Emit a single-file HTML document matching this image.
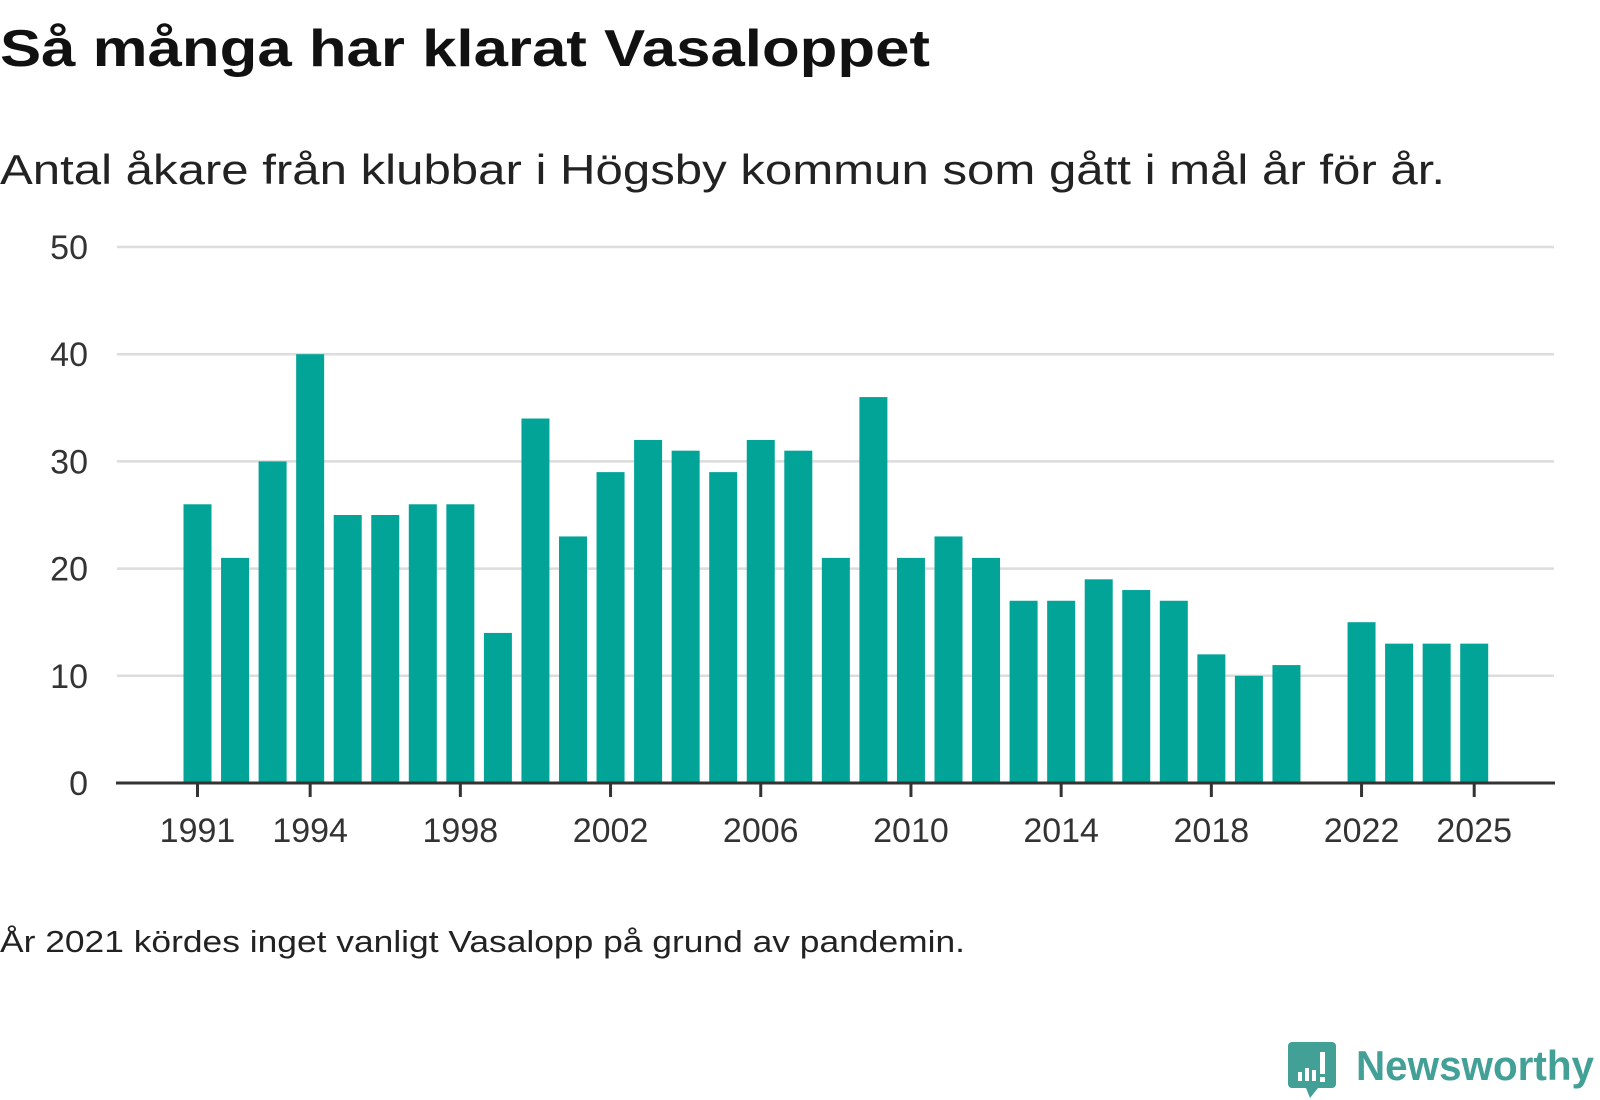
<!DOCTYPE html>
<html><head><meta charset="utf-8"><style>
html,body{margin:0;padding:0;background:#fff;width:1600px;height:1100px;overflow:hidden}
svg{display:block;font-family:"Liberation Sans",sans-serif}
</style></head><body>
<svg id="chart" width="1600" height="1100">
<text x="0" y="66" font-size="52" font-weight="bold" fill="#111" textLength="930" lengthAdjust="spacingAndGlyphs">Så många har klarat Vasaloppet</text>
<text x="0" y="184" font-size="42" fill="#222" textLength="1445" lengthAdjust="spacingAndGlyphs">Antal åkare från klubbar i Högsby kommun som gått i mål år för år.</text>
<g id="grid"></g><g id="bars"></g><g id="xaxis"></g>
<text x="0" y="952" font-size="31" fill="#222" textLength="965" lengthAdjust="spacingAndGlyphs">År 2021 kördes inget vanligt Vasalopp på grund av pandemin.</text>
<g>
<path d="M1292 1042 h40 a4 4 0 0 1 4 4 v38 a4 4 0 0 1 -4 4 h-14 l-8 10 l-4 -10 h-14 a4 4 0 0 1 -4 -4 v-38 a4 4 0 0 1 4 -4z" fill="#42a096"/>
<rect x="1298" y="1072" width="4" height="9" fill="#fff"/><rect x="1305" y="1068" width="4" height="13" fill="#fff"/><rect x="1312" y="1070" width="4" height="11" fill="#fff"/><rect x="1320" y="1052" width="5" height="22" fill="#fff"/><rect x="1320" y="1077" width="5" height="5" fill="#fff"/>
<text x="1356" y="1080" font-size="42" font-weight="bold" fill="#42a096" textLength="238" lengthAdjust="spacingAndGlyphs">Newsworthy</text>
</g>
</svg>
<script>
const years=[1991,1992,1993,1994,1995,1996,1997,1998,1999,2000,2001,2002,2003,2004,2005,2006,2007,2008,2009,2010,2011,2012,2013,2014,2015,2016,2017,2018,2019,2020,2021,2022,2023,2024,2025];
const values=[26,21,30,40,25,25,26,26,14,34,23,29,32,31,29,32,31,21,36,21,23,21,17,17,19,18,17,12,10,11,null,15,13,13,13];
const yTicks=[0,10,20,30,40,50];
const xTicks=[1991,1994,1998,2002,2006,2010,2014,2018,2022,2025];
const NS="http://www.w3.org/2000/svg";
const xS=y=>197.5+(y-1991)*37.55;
const yS=v=>783-v*10.72;
function mk(tag,attrs,parent){const e=document.createElementNS(NS,tag);for(const k in attrs)e.setAttribute(k,attrs[k]);parent.appendChild(e);return e;}
const grid=document.getElementById('grid'),bars=document.getElementById('bars'),xa=document.getElementById('xaxis');
yTicks.forEach(t=>{
 if(t>0){const l=mk('line',{x1:117,x2:1554,y1:yS(t),y2:yS(t),stroke:'#dcdcdc','stroke-width':2.5},grid);
 
 }
 const tx=mk('text',{x:88,y:yS(t)+12,'font-size':34,fill:'#333','text-anchor':'end'},grid);tx.textContent=t;
 
 
});
years.forEach((y,i)=>{const v=values[i];if(v==null)return;
 const r=mk('rect',{x:xS(y)-14,y:yS(v),width:28,height:783-yS(v),fill:'#02a498'},bars);
 
 
});
const ax=mk('line',{x1:116,x2:1555,y1:783,y2:783,stroke:'#333','stroke-width':3},xa);


xTicks.forEach(t=>{
 const tk=mk('line',{x1:xS(t),x2:xS(t),y1:783,y2:797,stroke:'#333','stroke-width':3},xa);
 
 
 const tx=mk('text',{x:xS(t),y:842,'font-size':34,fill:'#333','text-anchor':'middle'},xa);tx.textContent=t;
 
 
});
</script>
</body></html>
